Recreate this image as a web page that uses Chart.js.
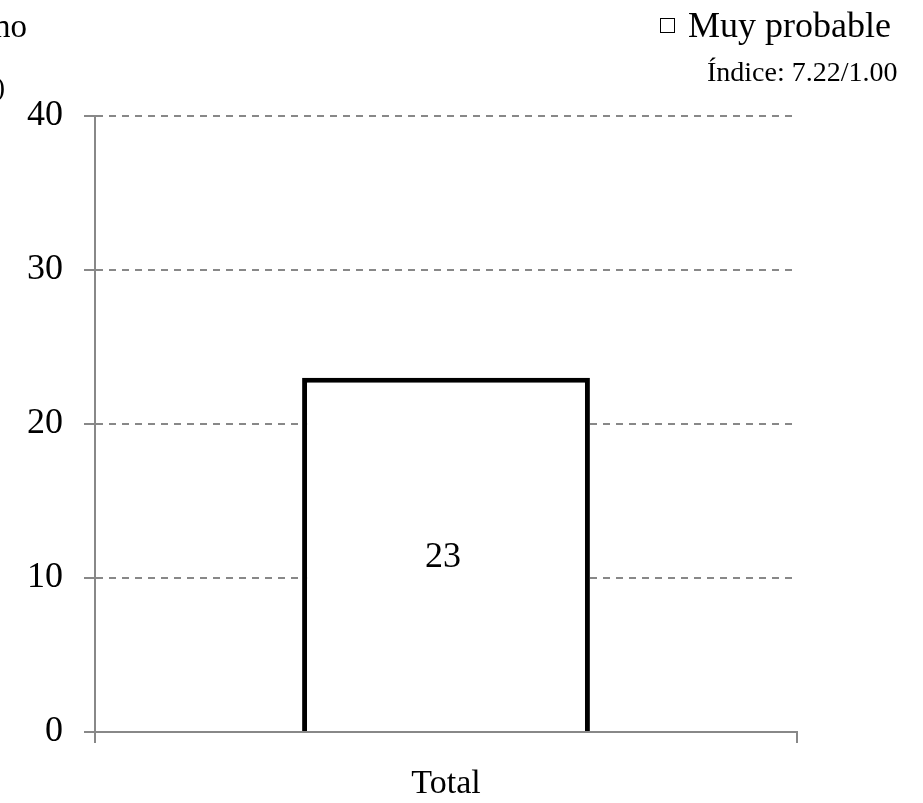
<!DOCTYPE html>
<html>
<head>
<meta charset="utf-8">
<script src="https://cdn.jsdelivr.net/npm/chart.js@4"></script>
<style>
  body { margin: 0; background: #fff; }
  #wrap { width: 923px; height: 803px; }
</style>
</head>
<body>
<div id="wrap"><canvas id="chart" width="923" height="803"></canvas></div>
<script>
const categories = ['Total'];
const seriesName = 'Muy probable';
const values = [23];
const yTicks = [0, 10, 20, 30, 40];
const indexText = 'Índice: 7.22/1.00';
const titleLines = ['Probabilidad de retorno', '(n=100)'];

const serif = "'Liberation Serif', 'Times New Roman', serif";
const axisGray = '#888';

// text outside the plot: cut title, legend, index and the value in the bar
const extras = {
  id: 'extras',
  afterDatasetsDraw(chart) {
    const ctx = chart.ctx;
    const area = chart.chartArea;
    const y = chart.scales.y;
    ctx.save();

    // small solid stub right of the y axis at each tick
    ctx.strokeStyle = axisGray;
    ctx.lineWidth = 2;
    yTicks.forEach(v => {
      const py = Math.round(y.getPixelForValue(v));
      ctx.beginPath();
      ctx.moveTo(area.left, py);
      ctx.lineTo(area.left + 8, py);
      ctx.stroke();
    });

    ctx.fillStyle = '#000';
    ctx.textBaseline = 'alphabetic';
    ctx.textAlign = 'right';
    ctx.font = '33px ' + serif;
    ctx.fillText(titleLines[0], 27, 37);
    ctx.font = '28px ' + serif;
    ctx.fillText(titleLines[1], 5, 96);

    // legend
    ctx.textAlign = 'left';
    ctx.strokeStyle = '#000';
    ctx.lineWidth = 1;
    ctx.strokeRect(660.5, 18.5, 14, 14);
    ctx.font = '36px ' + serif;
    ctx.fillText(seriesName, 688, 37);
    ctx.font = '28px ' + serif;
    ctx.fillText(indexText, 707, 81);

    // value label
    const meta = chart.getDatasetMeta(0);
    ctx.textAlign = 'center';
    ctx.textBaseline = 'alphabetic';
    ctx.font = '36px ' + serif;
    meta.data.forEach((bar, i) => {
      ctx.fillText(String(values[i]), bar.x - 3, (bar.y + bar.base) / 2 + 13);
    });
    ctx.restore();
  }
};

new Chart(document.getElementById('chart'), {
  type: 'bar',
  data: {
    labels: categories,
    datasets: [{
      label: seriesName,
      data: values,
      backgroundColor: '#fff',
      borderColor: '#000',
      borderWidth: 5,
      barPercentage: 0.41,
      categoryPercentage: 1
    }]
  },
  options: {
    responsive: false,
    animation: false,
    layout: { padding: { left: 0, top: 116, right: 126, bottom: 0 } },
    plugins: {
      legend: { display: false },
      tooltip: { enabled: false }
    },
    scales: {
      x: {
        afterFit(scale) { scale.height = 71; },
        grid: { display: true, drawOnChartArea: false, drawTicks: true, tickLength: 11, color: axisGray, lineWidth: 2, offset: true },
        border: { display: true, color: axisGray, width: 2 },
        ticks: { color: '#000', font: { family: serif, size: 34 }, padding: 21 }
      },
      y: {
        min: 0,
        max: 40,
        afterFit(scale) { scale.width = 95; },
        afterBuildTicks(scale) { scale.ticks = yTicks.map(v => ({ value: v })); },
        grid: { color: axisGray, lineWidth: 2, drawTicks: true, tickLength: 11, tickBorderDash: [] },
        border: { display: true, color: axisGray, width: 2, dash: [7, 6] },
        ticks: { color: '#000', font: { family: serif, size: 36 }, padding: 21 }
      }
    }
  },
  plugins: [extras]
});
</script>
</body>
</html>
